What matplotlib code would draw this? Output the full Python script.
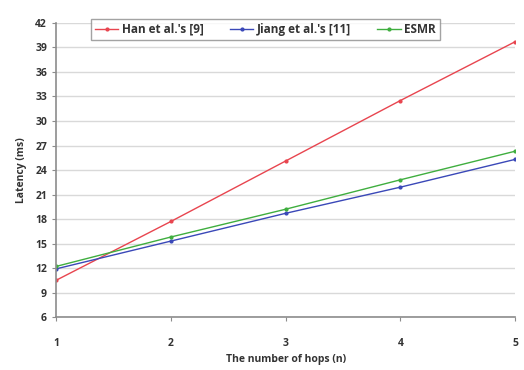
import matplotlib
matplotlib.use("Agg")
import matplotlib.pyplot as plt

hops = [1, 2, 3, 4, 5]
han = [10.5, 17.7, 25.1, 32.5, 39.7]
jiang = [11.9, 15.3, 18.7, 21.9, 25.3]
esmr = [12.2, 15.8, 19.2, 22.8, 26.3]
yticks = [6, 9, 12, 15, 18, 21, 24, 27, 30, 33, 36, 39, 42]

plt.rcParams['font.family'] = ['Open Sans', 'DejaVu Sans']
plt.rcParams['font.weight'] = 'bold'

fig = plt.figure(figsize=(5.24, 3.70), dpi=100, facecolor='white')
ax = fig.add_axes([0.107, 0.143, 0.876, 0.795])

ax.plot(hops, han, color='#e8454f', lw=1.0, marker='o', ms=2, label="Han et al.'s [9]")
ax.plot(hops, jiang, color='#3a48b8', lw=1.0, marker='o', ms=2, label="Jiang et al.'s [11]")
ax.plot(hops, esmr, color='#3fae3f', lw=1.0, marker='o', ms=2, label='ESMR')

ax.set_xlim(1, 5)
ax.set_ylim(6, 42)
ax.set_xticks(hops)
ax.set_yticks(yticks)
ax.grid(axis='y', color='#d9d9d9', lw=1.0)
ax.set_axisbelow(True)
for s in ['top', 'right']:
    ax.spines[s].set_visible(False)
for s in ['left', 'bottom']:
    ax.spines[s].set_color('#8c8c8c')
    ax.spines[s].set_linewidth(1.2)
ax.tick_params(axis='both', colors='#8c8c8c', labelcolor='#333333', labelsize=7.5, length=3)
ax.tick_params(axis='x', pad=12)

ax.set_xlabel('The number of hops (n)', fontsize=7.5, fontweight='bold', color='#333333', labelpad=4)
ax.set_ylabel('Latency (ms)', fontsize=7.5, fontweight='bold', color='#333333', labelpad=6)

leg = ax.legend(loc='upper center', bbox_to_anchor=(0.456, 1.034), ncol=3, fontsize=8.5,
                frameon=True, fancybox=False, edgecolor='#8c8c8c', handlelength=2.0,
                columnspacing=2.2, borderpad=0.35, handletextpad=0.3, markerscale=1.0)
leg.get_frame().set_linewidth(1.0)
for t in leg.get_texts():
    t.set_color('#333333')

fig.savefig('out.png', dpi=100)
